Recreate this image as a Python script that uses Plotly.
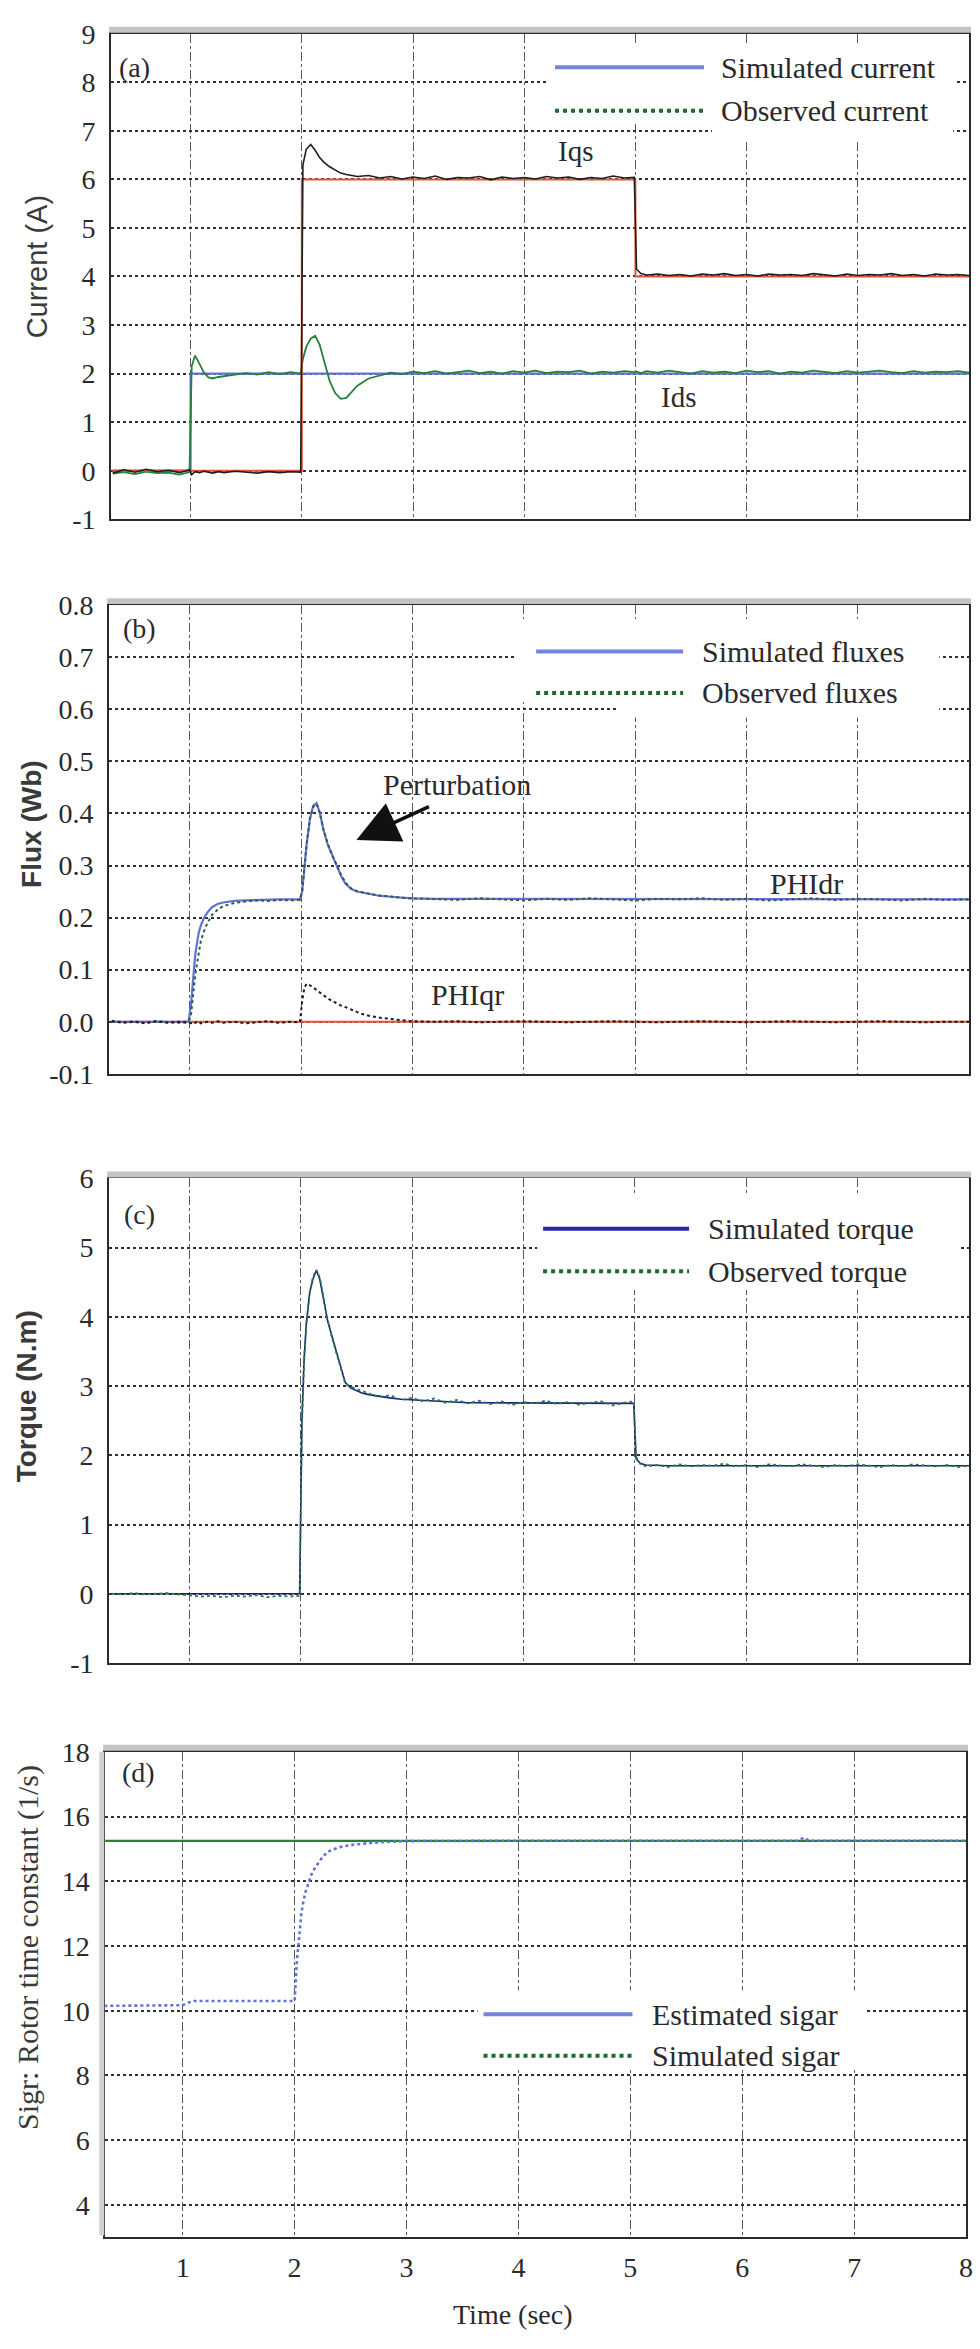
import plotly.graph_objects as go

W, H = 980, 2349

# ---------------- (a) stator currents ----------------
t_a = [0.30, 0.40, 0.50, 0.60, 0.70, 0.80, 0.90, 0.99,
       1.01, 1.04, 1.08, 1.12, 1.16, 1.20, 1.25, 1.30, 1.40, 1.50, 1.60, 1.70, 1.80, 1.90, 1.99,
       2.01, 2.04, 2.08, 2.12, 2.16, 2.20, 2.25, 2.30, 2.35, 2.40, 2.45, 2.50, 2.60,
       2.70, 2.80, 2.90, 3.00, 3.10, 3.20, 3.30, 3.40, 3.50, 3.60, 3.70, 3.80, 3.90, 4.00,
       4.10, 4.20, 4.30, 4.40, 4.50, 4.60, 4.70, 4.80, 4.90, 4.99,
       5.01, 5.05, 5.10, 5.20, 5.30, 5.40, 5.50, 5.60, 5.70, 5.80, 5.90, 6.00, 6.10, 6.20,
       6.30, 6.40, 6.50, 6.60, 6.70, 6.80, 6.90, 7.00, 7.10, 7.20, 7.30, 7.40, 7.50, 7.60,
       7.70, 7.80, 7.90, 8.00]
iqs_obs = [-0.05, 0.02, -0.03, 0.03, -0.02, 0.01, -0.04, 0.02,
           -0.08, -0.02, -0.04, -0.01, -0.03, -0.05, -0.02, -0.04, -0.01, -0.03, -0.05, -0.02, -0.04, -0.02, -0.03,
           6.30, 6.62, 6.72, 6.60, 6.45, 6.35, 6.26, 6.19, 6.13, 6.10, 6.08, 6.06, 6.08,
           6.03, 6.06, 6.01, 6.05, 6.02, 6.07, 6.00, 6.04, 6.03, 6.06, 5.99, 6.05, 6.02, 6.04,
           6.01, 6.06, 6.03, 6.05, 6.00, 6.04, 6.02, 6.07, 6.03, 6.04,
           4.15, 4.06, 4.03, 4.05, 4.02, 4.04, 4.01, 4.05, 4.03, 4.06, 4.02, 4.04, 4.01, 4.05,
           4.03, 4.04, 4.02, 4.06, 4.03, 4.01, 4.05, 4.02, 4.04, 4.03, 4.06, 4.02, 4.04, 4.01,
           4.05, 4.03, 4.04, 4.02]
ids_obs = [-0.06, -0.03, -0.07, -0.02, -0.05, -0.04, -0.08, -0.03,
           2.15, 2.37, 2.20, 2.02, 1.92, 1.90, 1.93, 1.95, 1.98, 2.01, 1.98, 2.03, 1.99, 2.03, 2.00,
           2.30, 2.55, 2.72, 2.78, 2.60, 2.25, 1.85, 1.60, 1.48, 1.50, 1.62, 1.75, 1.90,
           1.96, 2.02, 1.99, 2.04, 2.01, 2.05, 2.00, 2.03, 2.06, 2.01,
           2.04, 2.00, 2.05, 2.02, 2.06, 2.01, 2.04, 2.03, 2.06, 2.00,
           2.04, 2.02, 2.05, 2.03,
           2.04, 2.01, 2.05, 2.02, 2.06, 2.03, 2.00, 2.05, 2.02, 2.04,
           2.01, 2.06, 2.03, 2.05, 2.00, 2.04, 2.02, 2.06, 2.03, 2.01,
           2.05, 2.02, 2.04, 2.06, 2.03, 2.01, 2.05, 2.02, 2.04, 2.03,
           2.05, 2.02]
iqs_ref_t = [0.3, 2.0, 2.0, 5.0, 5.0, 8.0]
iqs_ref = [0, 0, 6, 6, 4, 4]
ids_ref_t = [0.3, 1.0, 1.0, 8.0]
ids_ref = [0, 0, 2, 2]

# ---------------- (b) rotor fluxes ----------------
t_b = [0.30, 0.40, 0.50, 0.60, 0.70, 0.80, 0.90, 0.99,
       1.01, 1.03, 1.05, 1.08, 1.10, 1.13, 1.16, 1.20, 1.25, 1.30, 1.40, 1.50, 1.60, 1.70, 1.80, 1.90, 1.99,
       2.01, 2.03, 2.05, 2.08, 2.11, 2.14, 2.17, 2.20, 2.24, 2.28, 2.32, 2.36, 2.40, 2.45, 2.50, 2.55,
       2.60, 2.70, 2.80, 2.90, 3.00,
       3.20, 3.40, 3.60, 3.80, 4.00, 4.20, 4.40, 4.60, 4.80, 5.00, 5.20, 5.40, 5.60, 5.80, 6.00,
       6.20, 6.40, 6.60, 6.80, 7.00, 7.20, 7.40, 7.60, 7.80, 8.00]
phidr_sim = [0, 0, 0, 0, 0, 0, 0, 0,
             0.03, 0.09, 0.13, 0.17, 0.185, 0.20, 0.21, 0.22, 0.226, 0.229, 0.232, 0.233, 0.234, 0.234,
             0.235, 0.235, 0.235,
             0.25, 0.30, 0.34, 0.39, 0.415, 0.42, 0.40, 0.37, 0.34, 0.32, 0.30, 0.28, 0.265, 0.255, 0.25,
             0.248, 0.245, 0.242, 0.240, 0.238, 0.237,
             0.236, 0.236, 0.235, 0.235, 0.235, 0.235, 0.235, 0.235, 0.235, 0.235, 0.235, 0.235, 0.235,
             0.235, 0.235, 0.235, 0.235, 0.235, 0.235, 0.235, 0.235, 0.235, 0.235, 0.235, 0.235]
phidr_obs = [0.002, -0.001, 0.001, -0.002, 0.001, 0.000, -0.002, 0.001,
             0.01, 0.05, 0.09, 0.13, 0.155, 0.175, 0.19, 0.205, 0.215, 0.222, 0.228, 0.231, 0.233,
             0.232, 0.234, 0.233, 0.234,
             0.25, 0.30, 0.34, 0.39, 0.413, 0.418, 0.40, 0.37, 0.342, 0.32, 0.30, 0.282, 0.267, 0.256,
             0.251, 0.249, 0.246, 0.242, 0.241, 0.238, 0.237,
             0.236, 0.234, 0.237, 0.235, 0.233, 0.236, 0.234, 0.237, 0.235, 0.233, 0.236, 0.235, 0.237,
             0.234, 0.236, 0.233, 0.235, 0.237, 0.234, 0.236, 0.235, 0.233, 0.236, 0.234, 0.235]
phiqr_obs = [0.001, -0.002, 0.000, -0.003, 0.001, -0.002, 0.000, -0.002,
             -0.003, 0.000, -0.002, 0.001, -0.003, -0.001, 0.000, -0.002, 0.001, -0.002, 0.000, -0.003,
             -0.001, 0.001, -0.002, 0.000, -0.001,
             0.040, 0.065, 0.073, 0.070, 0.066, 0.061, 0.056, 0.051, 0.045, 0.040, 0.035, 0.031, 0.028,
             0.023, 0.019, 0.015, 0.012, 0.008, 0.005, 0.003, 0.001,
             0.000, 0.001, -0.001, 0.000, 0.001, 0.000, -0.001, 0.000, 0.001, 0.000, -0.001, 0.000, 0.001,
             0.000, -0.001, 0.000, 0.001, 0.000, -0.001, 0.000, 0.001, 0.000, -0.001, 0.000, 0.000]
phiqr_sim_t = [0.3, 8.0]
phiqr_sim = [0.0, 0.0]

# ---------------- (c) electromagnetic torque ----------------
t_c = [0.30, 0.40, 0.50, 0.60, 0.70, 0.80, 0.90, 1.00, 1.10, 1.20, 1.30, 1.40, 1.50, 1.60, 1.70,
       1.80, 1.90, 1.99,
       2.01, 2.03, 2.05, 2.08, 2.11, 2.14, 2.17, 2.20, 2.24, 2.28, 2.32, 2.36, 2.40, 2.45, 2.50,
       2.55, 2.60,
       2.70, 2.80, 2.90, 3.00, 3.10, 3.20, 3.30, 3.40, 3.50, 3.60, 3.70, 3.80, 3.90, 4.00, 4.10,
       4.20, 4.30, 4.40, 4.50, 4.60, 4.70, 4.80, 4.90, 4.99,
       5.01, 5.05, 5.10, 5.20, 5.30, 5.40, 5.50, 5.60, 5.70, 5.80, 5.90, 6.00, 6.10, 6.20, 6.30,
       6.40, 6.50, 6.60, 6.70, 6.80, 6.90, 7.00, 7.10, 7.20, 7.30, 7.40, 7.50, 7.60, 7.70, 7.80,
       7.90, 8.00]
torque_sim = [0, 0, 0, 0, 0, 0, 0, 0, 0, 0, 0, 0, 0, 0, 0, 0, 0, 0,
              2.50, 3.40, 3.90, 4.35, 4.55, 4.67, 4.55, 4.30, 3.95, 3.72, 3.50, 3.25, 3.05, 2.97,
              2.93, 2.90, 2.88,
              2.85, 2.83, 2.81, 2.80, 2.79, 2.78, 2.77, 2.77, 2.76, 2.76, 2.76, 2.75, 2.75, 2.75,
              2.75, 2.75, 2.75, 2.75, 2.75, 2.75, 2.75, 2.75, 2.75, 2.75,
              1.95, 1.88, 1.86, 1.85, 1.85, 1.85, 1.85, 1.85, 1.85, 1.85, 1.85, 1.85, 1.85, 1.85,
              1.85, 1.85, 1.85, 1.85, 1.85, 1.85, 1.85, 1.85, 1.85, 1.85, 1.85, 1.85, 1.85, 1.85,
              1.85, 1.85, 1.85, 1.85]
torque_obs = [0.00, -0.01, 0.01, -0.01, 0.00, 0.01, -0.01, -0.02, -0.04, -0.03, -0.05, -0.03,
              -0.04, -0.02, -0.05, -0.03, -0.04, -0.03,
              2.40, 3.35, 3.90, 4.35, 4.58, 4.68, 4.57, 4.32, 3.97, 3.70, 3.48, 3.24, 3.03, 2.99,
              2.96, 2.92, 2.90,
              2.84, 2.87, 2.80, 2.83, 2.78, 2.82, 2.76, 2.80, 2.75, 2.79, 2.74, 2.78, 2.73, 2.77,
              2.75, 2.79, 2.74, 2.77, 2.73, 2.76, 2.78, 2.72, 2.76, 2.78,
              1.98, 1.87, 1.84, 1.86, 1.83, 1.87, 1.84, 1.86, 1.85, 1.88, 1.84, 1.86, 1.83, 1.87,
              1.85, 1.84, 1.87, 1.85, 1.83, 1.86, 1.84, 1.87, 1.85, 1.83, 1.86, 1.84, 1.87, 1.85,
              1.84, 1.86, 1.83, 1.85]

# ---------------- (d) rotor time constant ----------------
sigar_sim_t = [0.3, 8.0]
sigar_sim = [15.25, 15.25]
sigar_est_t = [0.30, 0.50, 0.70, 0.90, 1.00, 1.05, 1.10, 1.30, 1.50, 1.70, 1.90, 2.00,
               2.02, 2.04, 2.06, 2.08, 2.10, 2.13, 2.16, 2.20, 2.25, 2.30, 2.40, 2.50, 2.60,
               2.70, 2.80, 2.90, 3.00, 4.00, 5.00, 6.00, 6.50, 6.55, 6.60, 7.00, 8.00]
sigar_est = [10.15, 10.15, 10.15, 10.15, 10.17, 10.25, 10.30, 10.30, 10.30, 10.30, 10.30, 10.30,
             11.50, 12.40, 13.00, 13.40, 13.70, 14.00, 14.30, 14.50, 14.75, 14.92, 15.05, 15.12,
             15.16, 15.19, 15.21, 15.23, 15.24, 15.25, 15.25, 15.25, 15.25, 15.35, 15.25, 15.25,
             15.25]

# axis ticks
x_ticks = [1, 2, 3, 4, 5, 6, 7, 8]
x_ticktext = ["1", "2", "3", "4", "5", "6", "7", "8"]
ya_ticks = [-1, 0, 1, 2, 3, 4, 5, 6, 7, 8, 9]
yb_ticks = [-0.1, 0.0, 0.1, 0.2, 0.3, 0.4, 0.5, 0.6, 0.7, 0.8]
yb_ticktext = ["-0.1", "0.0", "0.1", "0.2", "0.3", "0.4", "0.5", "0.6", "0.7", "0.8"]
yc_ticks = [-1, 0, 1, 2, 3, 4, 5, 6]
yd_ticks = [4, 6, 8, 10, 12, 14, 16, 18]

# colours
BLUE = "#6272d6"
GREEN = "#24803a"
RED = "#e0553a"
BLACK = "#1e1e1e"
NAVY = "#1c1c86"
TEAL = "#2e5e4a"

SERIF = "Liberation Serif"
SANS = "Liberation Sans"
INK = "#2a2a2a"


def px_x(x):
    return x / W


def px_y(y):
    return 1 - y / H


fig = go.Figure()


def line(x, y, color, width, dash="solid", ax=""):
    fig.add_trace(go.Scatter(x=x, y=y, mode="lines", xaxis="x" + ax, yaxis="y" + ax,
                             line=dict(color=color, width=width, dash=dash),
                             showlegend=False, hoverinfo="skip"))


# (a)
line(ids_ref_t, ids_ref, BLUE, 2.2)
line(t_a, ids_obs, GREEN, 1.8)
line(iqs_ref_t, iqs_ref, RED, 2.0)
line(t_a, iqs_obs, BLACK, 1.6)
# (b)
line(phiqr_sim_t, phiqr_sim, RED, 2.0, ax="2")
line(t_b, phidr_sim, BLUE, 2.2, ax="2")
line(t_b, phidr_obs, TEAL, 2.0, "dot", ax="2")
line(t_b, phiqr_obs, BLACK, 2.0, "dot", ax="2")
# (c)
line(t_c, torque_sim, NAVY, 1.6, ax="3")
line(t_c, torque_obs, GREEN, 1.8, "dot", ax="3")
# (d)
line(sigar_sim_t, sigar_sim, GREEN, 2.2, ax="4")
line(sigar_est_t, sigar_est, BLUE, 2.6, "dot", ax="4")

# panel geometry (pixels): left, right, top, bottom
panels = {
    "": dict(l=112, r=976, t=19, b=511, xr=[0.286, 8.0], yr=[-1, 9], yt=ya_ticks, ytt=[str(v) for v in ya_ticks]),
    "2": dict(l=110, r=976, t=598, b=1073, xr=[0.277, 8.0], yr=[-0.1, 0.8], yt=yb_ticks, ytt=yb_ticktext),
    "3": dict(l=110, r=976, t=1179, b=1670, xr=[0.28, 8.0], yr=[-1, 6], yt=yc_ticks, ytt=[str(v) for v in yc_ticks]),
    "4": dict(l=106, r=973, t=1760, b=2252, xr=[0.308, 8.0], yr=[3, 18], yt=yd_ticks, ytt=[str(v) for v in yd_ticks]),
}

layout = dict(width=W, height=H, margin=dict(l=0, r=0, t=0, b=0), autosize=False,
              paper_bgcolor="white", plot_bgcolor="white", showlegend=False)
shapes = []
annotations = []

for key, p in panels.items():
    last = key == "4"
    layout["xaxis" + key] = dict(
        domain=[px_x(p["l"]), px_x(p["r"])], range=p["xr"], anchor="y" + key,
        tickvals=x_ticks, ticktext=x_ticktext, showticklabels=last,
        tickfont=dict(family=SERIF, size=28, color=INK), ticks="", ticklabelstandoff=4,
        showgrid=True, gridcolor="#5a5a5a", griddash="dashdot", gridwidth=1.2,
        showline=True, mirror=True, linecolor="#2b2b2b", linewidth=2, zeroline=False)
    layout["yaxis" + key] = dict(
        domain=[px_y(p["b"]), px_y(p["t"])], range=p["yr"], anchor="x" + key,
        tickvals=p["yt"], ticktext=p["ytt"],
        tickfont=dict(family=SERIF, size=28, color=INK), ticks="", ticklabelstandoff=8,
        showgrid=True, gridcolor="#303030", griddash="dot", gridwidth=1.6,
        showline=True, mirror=True, linecolor="#2b2b2b", linewidth=2, zeroline=False)
    # grey band along the top frame
    shapes.append(dict(type="rect", xref="paper", yref="paper",
                       x0=px_x(p["l"] - 2), x1=px_x(p["r"] + 2),
                       y0=px_y(p["t"] - 1), y1=px_y(p["t"] - 7),
                       fillcolor="#c4c4c4", line=dict(width=0), layer="above"))

# grey band along the left frame of (d)
shapes.append(dict(type="rect", xref="paper", yref="paper",
                   x0=px_x(100), x1=px_x(105), y0=px_y(1760), y1=px_y(2250),
                   fillcolor="#d0d0d0", line=dict(width=0), layer="above"))


def legend(boxes, x0, x1, ys, xt, labels, colors, dashes):
    for (bl, br, bt, bb) in boxes:
        shapes.append(dict(type="rect", xref="paper", yref="paper",
                           x0=px_x(bl), x1=px_x(br), y0=px_y(bb), y1=px_y(bt),
                           fillcolor="white", line=dict(width=0), layer="above"))
    for y, lab, col, dsh in zip(ys, labels, colors, dashes):
        shapes.append(dict(type="line", xref="paper", yref="paper",
                           x0=px_x(x0), x1=px_x(x1), y0=px_y(y), y1=px_y(y),
                           line=dict(color=col, width=4, dash=dsh), layer="above"))
        annotations.append(dict(xref="paper", yref="paper", x=px_x(xt), y=px_y(y),
                                xanchor="left", yanchor="middle", showarrow=False, text=lab,
                                font=dict(family=SERIF, size=30, color=INK)))


legend([(553, 962, 30, 108), (717, 960, 30, 126)], 559, 709, [53, 97], 724,
       ["Simulated current", "Observed current"], ["#7283e0", "#1d6a2c"], ["solid", "dot"])
legend([(519, 946, 612, 696), (622, 946, 612, 712)], 540, 688, [645, 687], 705,
       ["Simulated fluxes", "Observed fluxes"], ["#7283e0", "#1d6a2c"], ["solid", "dot"])
legend([(541, 966, 1196, 1292)], 547, 694, [1230, 1273], 711,
       ["Simulated torque", "Observed torque"], ["#2a2aa0", "#1d6a2c"], ["solid", "dot"])
legend([(481, 872, 2002, 2082)], 487, 637, [2026, 2068], 655,
       ["Estimated sigar", "Simulated sigar"], ["#7283e0", "#1d6a2c"], ["solid", "dot"])


def text(x, y, s, size=26, family=SERIF, angle=0, color=INK, xanchor="center"):
    annotations.append(dict(xref="paper", yref="paper", x=px_x(x), y=px_y(y), text=s,
                            showarrow=False, textangle=angle, xanchor=xanchor, yanchor="middle",
                            font=dict(family=family, size=size, color=color)))


# panel tags
text(135, 53, "(a)", 28)
text(141, 622, "(b)", 28)
text(140, 1216, "(c)", 28)
text(139, 1781, "(d)", 28)

# curve labels
text(580, 138, "Iqs", 29)
text(683, 387, "Ids", 29)
text(460, 780, "Perturbation", 30)
text(812, 880, "PHIdr", 30)
text(471, 993, "PHIqr", 30)

# axis titles
text(37, 255, "Current (A)", 29, SANS, -90, "#3a3a3a")
text(31, 820, "<b>Flux (Wb)</b>", 28, SANS, -90, "#3a3a3a")
text(27, 1400, "<b>Torque (N.m)</b>", 28, SANS, -90, "#3a3a3a")
text(28, 1958, "Sigr: Rotor time constant (1/s)", 30, SERIF, -90, "#3a3a3a")
text(517, 2330, "Time (sec)", 28)

# perturbation arrow
annotations.append(dict(xref="paper", yref="paper", x=px_x(359), y=px_y(836), text="",
                        showarrow=True, ax=74, ay=-34, arrowhead=2, arrowsize=2.4,
                        arrowwidth=3.5, arrowcolor="#111111"))

layout["shapes"] = shapes
layout["annotations"] = annotations
fig.update_layout(**layout)

fig.write_html("out.html")
